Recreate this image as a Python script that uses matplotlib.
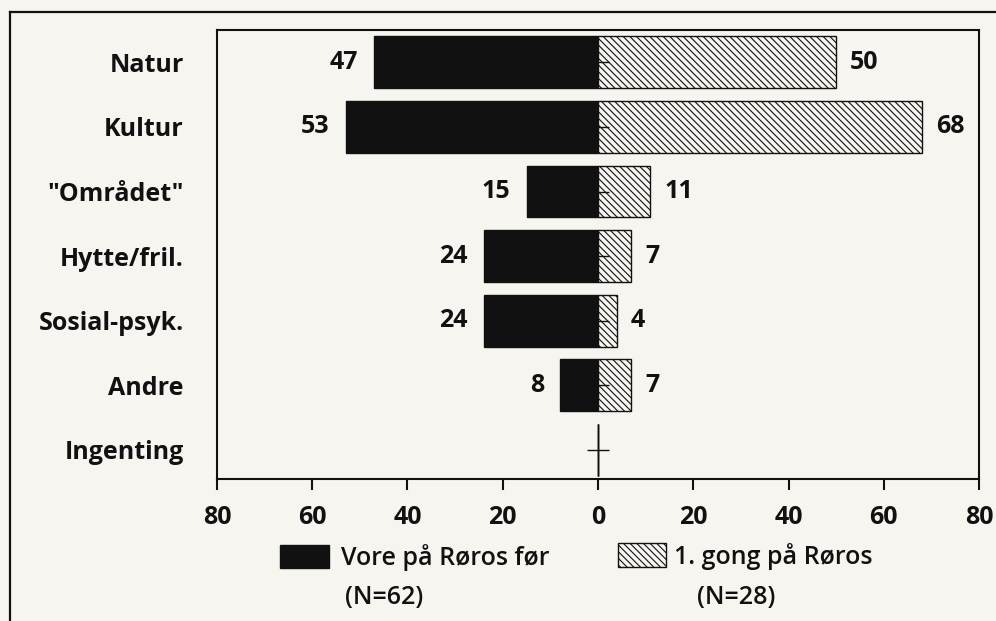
import matplotlib
matplotlib.use("Agg")
import matplotlib.pyplot as plt
import numpy as np
from matplotlib.patches import Rectangle
from matplotlib.lines import Line2D

categories = ["Natur", "Kultur", '"Området"', "Hytte/fril.", "Sosial-psyk.", "Andre", "Ingenting"]
vore_for = [47, 53, 15, 24, 24, 8, 0]
forste_gong = [50, 68, 11, 7, 4, 7, 0]
series_names = ["Vore på Røros før", "1. gong på Røros"]
series_n = ["(N=62)", "(N=28)"]
xticks = [-80, -60, -40, -20, 0, 20, 40, 60, 80]
xticklabels = ["80", "60", "40", "20", "0", "20", "40", "60", "80"]

BG = "#f6f5f0"
INK = "#111111"
plt.rcParams["font.family"] = ["Open Sans", "DejaVu Sans"]
plt.rcParams["hatch.linewidth"] = 0.8
plt.rcParams["hatch.color"] = INK

W, H = 996, 621
fig = plt.figure(figsize=(W / 100, H / 100), dpi=100, facecolor=BG)
ax = fig.add_axes([217 / W, 1 - 479 / H, (979 - 217) / W, (479 - 30) / H])
ax.set_facecolor(BG)

y = np.arange(len(categories))
left_vals = -np.array(vore_for)
right_vals = np.array(forste_gong)

ax.barh(y, left_vals, height=0.8, color=INK, edgecolor=INK, linewidth=1)
ax.barh(y, right_vals, height=0.8, color=BG, edgecolor=INK, linewidth=1,
        hatch="\\\\\\\\\\")

# small ticks on the zero line
ax.plot(np.zeros(len(y)), y, ls="none", marker="_", ms=16, mew=1.0, color=INK, zorder=3)
empty = [i for i, (a, b) in enumerate(zip(vore_for, forste_gong)) if a == 0 and b == 0]
for i in empty:
    ax.vlines(0, i - 0.4, i + 0.4, color=INK, lw=1.0, zorder=3)

for yi, v in zip(y, vore_for):
    if v > 0:
        ax.annotate(str(v), (-v, yi), xytext=(-11.5, 0), textcoords="offset points",
                    ha="right", va="center", fontsize=18, fontweight="bold", color=INK)
for yi, v in zip(y, forste_gong):
    if v > 0:
        ax.annotate(str(v), (v, yi), xytext=(10, 0), textcoords="offset points",
                    ha="left", va="center", fontsize=18, fontweight="bold", color=INK)

ax.set_xlim(-80, 80)
ax.set_ylim(6.45, -0.5)
ax.set_xticks(xticks)
ax.set_xticklabels(xticklabels, fontsize=18, fontweight="bold", color=INK)
ax.set_yticks(y)
ax.set_yticklabels(categories, fontsize=18, fontweight="bold", color=INK)
ax.tick_params(axis="x", direction="out", length=8, width=1.5, pad=11, colors=INK)
ax.tick_params(axis="y", length=0, pad=24)
for s in ax.spines.values():
    s.set_linewidth(1.5)
    s.set_color(INK)

# legend (manual)
fig.add_artist(Rectangle((280 / W, 1 - 568 / H), 49 / W, 23 / H, transform=fig.transFigure,
                         facecolor=INK, edgecolor=INK, lw=1))
fig.add_artist(Rectangle((618 / W, 1 - 567 / H), 48 / W, 24 / H, transform=fig.transFigure,
                         facecolor=BG, edgecolor=INK, lw=1, hatch="\\\\\\\\\\"))
fig.text(341 / W, 1 - 558 / H, series_names[0], fontsize=18, fontweight="semibold", color=INK, va="center", ha="left")
fig.text(345 / W, 1 - 597 / H, series_n[0], fontsize=18, fontweight="semibold", color=INK, va="center", ha="left")
fig.text(674 / W, 1 - 557 / H, series_names[1], fontsize=18, fontweight="semibold", color=INK, va="center", ha="left")
fig.text(697 / W, 1 - 597 / H, series_n[1], fontsize=18, fontweight="semibold", color=INK, va="center", ha="left")

# outer frame
fig.add_artist(Line2D([10 / W, 10 / W], [0, 1 - 12 / H], transform=fig.transFigure, color=INK, lw=1.6))
fig.add_artist(Line2D([10 / W, 1], [1 - 12 / H, 1 - 12 / H], transform=fig.transFigure, color=INK, lw=1.6))

fig.savefig("out.png", dpi=100, facecolor=BG)
